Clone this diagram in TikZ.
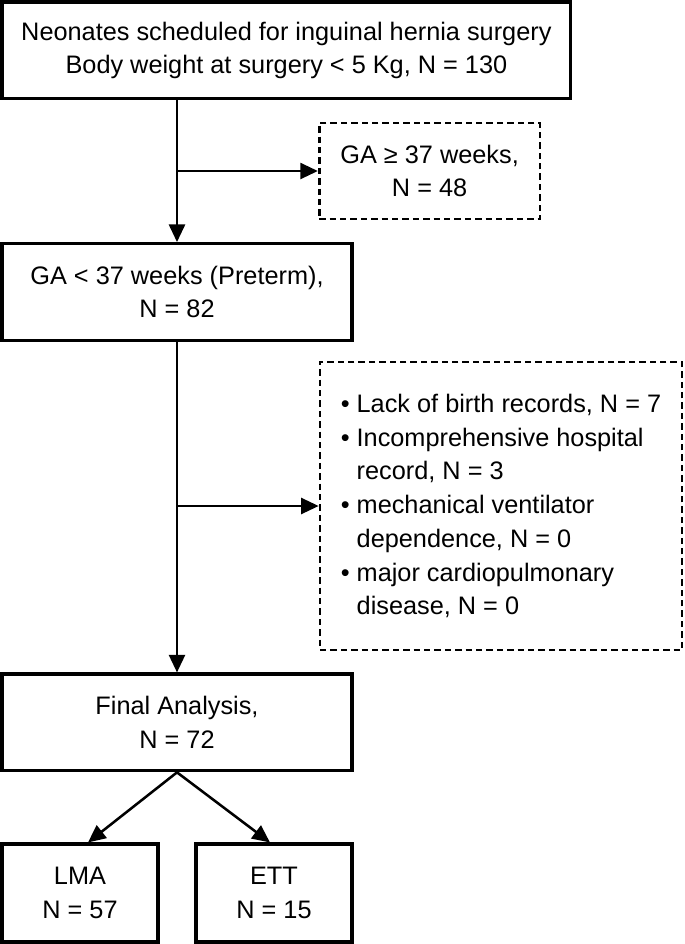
\documentclass[tikz,border=0pt]{standalone}
\usepackage{fontspec}
\setmainfont{Liberation Sans}
\usetikzlibrary{arrows.meta}

\begin{document}
\begin{tikzpicture}[
    box/.style={draw, line width=2.2pt, minimum height=2.42cm, inner sep=0pt,
        align=center, font=\fontsize{18}{24}\selectfont},
    exclbox/.style={draw, line width=1.9pt, dash pattern=on 0.16cm off 0.1cm,
        inner sep=0pt, align=left, font=\fontsize{18}{24}\selectfont},
    arr/.style={line width=1.8pt, -{Triangle[length=0.44cm,width=0.4cm]}}
]

    \useasboundingbox (0,0) rectangle (17.125,-23.6);

    \node[box, minimum width=14.22cm] (top) at (7.16,-1.26)
        {Neonates scheduled for inguinal hernia surgery\\Body weight at surgery < 5 Kg, N = 130};
    \node[exclbox, minimum width=5.52cm, minimum height=2.4cm, align=center] (term) at (10.74,-4.275)
        {GA ≥ 37 weeks,\\N = 48};
    \node[box, minimum width=8.75cm] (preterm) at (4.425,-7.3)
        {GA < 37 weeks (Preterm),\\N = 82};
    \node[exclbox, minimum width=9.05cm, minimum height=7.2cm] (excl) at (12.525,-12.65)
        {\textbullet\ Lack of birth records, N = 7\\
         \textbullet\ Incomprehensive hospital\\
         \phantom{\textbullet\ }record, N = 3\\
         \textbullet\ mechanical ventilator\\
         \phantom{\textbullet\ }dependence, N = 0\\
         \textbullet\ major cardiopulmonary\\
         \phantom{\textbullet\ }disease, N = 0};
    \node[box, minimum width=8.75cm] (final) at (4.425,-18.06)
        {Final Analysis,\\N = 72};
    \node[box, minimum width=3.9cm, minimum height=2.45cm] (lma) at (2.0,-22.325)
        {LMA\\N = 57};
    \node[box, minimum width=3.9cm, minimum height=2.45cm] (ett) at (6.85,-22.325)
        {ETT\\N = 15};

    \draw[arr] (top.south -| preterm.north) -- (preterm.north);
    \draw[arr] (term.west -| preterm.north) -- (term.west);
    \draw[arr] (preterm.south) -- (final.north);
    \draw[arr] (excl.west -| preterm.south) -- (excl.west);
    \draw[arr] (final.south) -- ([xshift=0.2cm]lma.north);
    \draw[arr] (final.south) -- ([xshift=-0.1cm]ett.north);

\end{tikzpicture}
\end{document}
